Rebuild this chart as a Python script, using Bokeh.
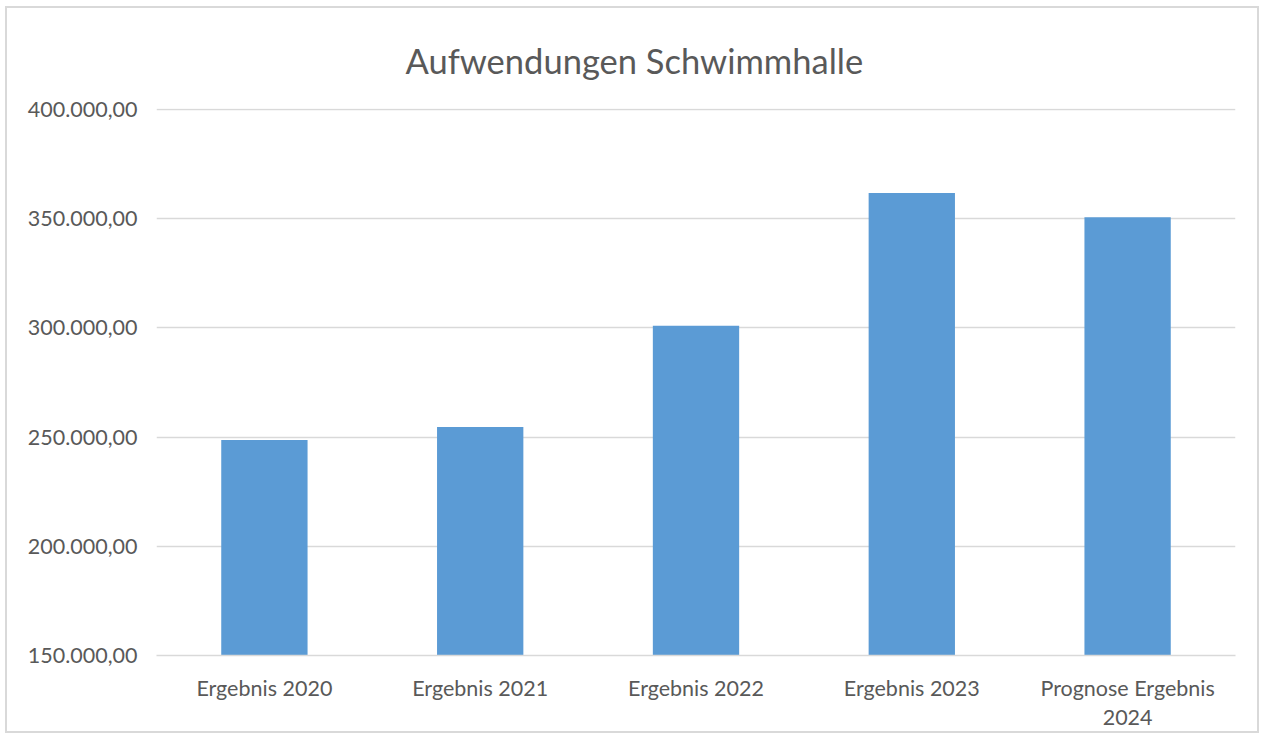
from bokeh.plotting import figure
from bokeh.models import Range1d, FixedTicker
from bokeh.embed import file_html
from bokeh.resources import INLINE

categories = ["Ergebnis 2020", "Ergebnis 2021", "Ergebnis 2022", "Ergebnis 2023", "Prognose Ergebnis\n2024"]
values = [248600, 254600, 300900, 361700, 350600]
y_ticks = [150000, 200000, 250000, 300000, 350000, 400000]
y_tick_labels = ["150.000,00", "200.000,00", "250.000,00", "300.000,00", "350.000,00", "400.000,00"]
title_text = "Aufwendungen Schwimmhalle"

FONT = "Lato"
TXT = "#595959"
GRID = "#D9D9D9"

p = figure(x_range=categories, y_range=Range1d(150000, 400400),
           width=1254, height=727, output_backend="svg", toolbar_location=None,
           min_border_left=149, min_border_right=26, min_border_top=100, min_border_bottom=80)
p.styles = {"border": "2px solid #D9D9D9", "margin-left": "5px", "margin-top": "6px"}
p.outline_line_color = None
p.background_fill_color = "white"
p.border_fill_color = "white"

p.title.text = title_text
p.title.align = "left"
p.title.offset = 249
p.title.text_font = FONT
p.title.text_font_size = "34.5px"
p.title.text_font_style = "normal"
p.title.text_color = TXT
p.title.standoff = 56

p.vbar(x=categories, top=values, width=0.4, bottom=0, fill_color="#5B9BD5", line_color=None)

p.xgrid.grid_line_color = None
p.ygrid.grid_line_color = GRID
p.ygrid.grid_line_width = 1.5
p.yaxis.ticker = FixedTicker(ticks=y_ticks)
p.yaxis.major_label_overrides = {t: l for t, l in zip(y_ticks, y_tick_labels)}
p.yaxis.axis_line_color = None
p.yaxis.major_tick_line_color = None
p.yaxis.minor_tick_line_color = None
p.yaxis.major_label_standoff = 13
p.yaxis.major_label_text_font = FONT
p.yaxis.major_label_text_font_size = "21.5px"
p.yaxis.major_label_text_color = TXT

p.xaxis.axis_line_color = GRID
p.xaxis.axis_line_width = 1.5
p.xaxis.major_tick_line_color = None
p.xaxis.minor_tick_line_color = None
p.xaxis.major_label_standoff = 13
p.xaxis.major_label_text_font = FONT
p.xaxis.major_label_text_font_size = "21.5px"
p.xaxis.major_label_text_color = TXT
p.xaxis.major_label_text_line_height = 1.12

open("out.html", "w").write(file_html(p, INLINE))
